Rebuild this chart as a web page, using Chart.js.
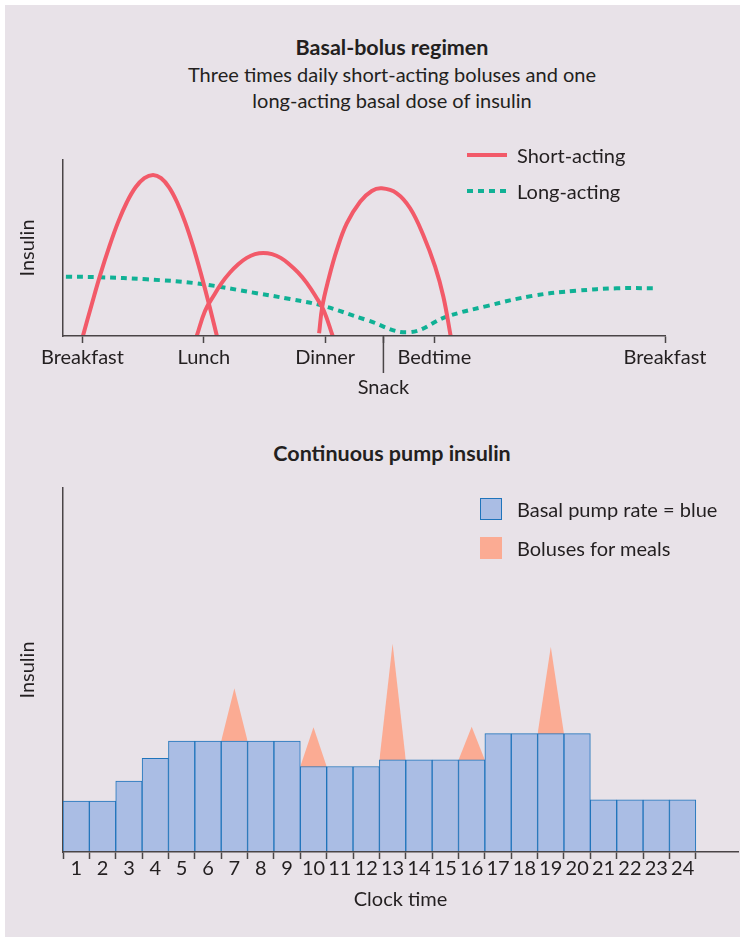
<!DOCTYPE html>
<html>
<head>
<meta charset="utf-8">
<script src="https://cdn.jsdelivr.net/npm/chart.js@4.4.1/dist/chart.umd.min.js"></script>
<style>
  html, body { margin: 0; padding: 0; width: 740px; height: 938px; overflow: hidden; background: #fff; font-family: Lato, sans-serif; color: #231f20; }
  #panel { position: absolute; left: 5px; top: 5px; width: 735px; height: 932px; background: #e8e2e8; }
  .txt { position: absolute; font-size: 20px; line-height: 26px; white-space: nowrap; }
  .center { left: 92px; width: 600px; text-align: center; }
  .bold { font-weight: 700; font-size: 21.5px; }
  canvas { position: absolute; left: 0; }
  #regimenChart { top: 140px; }
  #pumpChart { top: 470px; }
  .swatch { position: absolute; box-sizing: border-box; }
</style>
</head>
<body>
<div id="panel"></div>
<div class="txt center bold" style="top:34px">Basal-bolus regimen</div>
<div class="txt center" style="top:61px">Three times daily short-acting boluses and one<br>long-acting basal dose of insulin</div>
<div class="txt center bold" style="top:440px">Continuous pump insulin</div>
<canvas id="regimenChart" width="740" height="270"></canvas>
<canvas id="pumpChart" width="740" height="450"></canvas>
<div id="legends"></div>
<script>
// ---- top chart: meal times (hours of day, next breakfast = 31) ----
const timeLabels = ['Breakfast', 'Lunch', 'Dinner', 'Snack', 'Bedtime', 'Breakfast'];
const timeTicks = [7, 12, 17, 19.4, 21.5, 31];

// short-acting boluses (x = hour, y = relative insulin)
const breakfastBolusX = [7.02, 7.38, 7.74, 8.11, 8.47, 8.83, 9.19, 9.55, 9.91, 10.24, 10.57, 10.90, 11.23, 11.56, 11.89, 12.22, 12.54];
const breakfastBolusY = [0, 17.8, 35.0, 50.9, 64.7, 76.0, 84.5, 89.7, 91.5, 89.7, 84.5, 76.0, 64.7, 50.9, 35.0, 17.8, 0];
const lunchBolusX = [11.71, 12.05, 12.40, 12.74, 13.08, 13.42, 13.77, 14.11, 14.45, 14.81, 15.17, 15.52, 15.88, 16.24, 16.60, 16.95, 17.31];
const lunchBolusY = [0, 14.2, 22.7, 30.2, 36.1, 40.8, 44.4, 46.5, 47.2, 46.5, 44.4, 40.8, 36.1, 30.2, 22.7, 14.2, 0];
const dinnerBolusX = [16.75, 16.88, 17.13, 17.48, 17.89, 18.44, 18.92, 19.33, 19.95, 20.50, 21.04, 21.53, 21.87, 22.17];
const dinnerBolusY = [1.5, 16.6, 31.8, 48.9, 64.0, 76.3, 82.4, 83.9, 81.1, 72.6, 57.4, 39.4, 22.3, 0];

// long-acting basal dose
const basalDoseX = [6.32, 7.72, 9.65, 11.71, 14.18, 15.55, 16.90, 18.71, 20.43, 22.01, 23.65, 25.57, 27.36, 29.01, 30.59];
const basalDoseY = [33.7, 33.4, 32.2, 29.9, 24.3, 21.0, 17.2, 9.1, 2.1, 11.0, 17.0, 22.9, 25.7, 27.1, 27.1];

// ---- bottom chart: pump ----
const hourLabels = ['1','2','3','4','5','6','7','8','9','10','11','12','13','14','15','16','17','18','19','20','21','22','23','24'];
const basalRate = [14, 14, 19.5, 25.7, 30.5, 30.5, 30.5, 30.5, 30.5, 23.5, 23.5, 23.5, 25.3, 25.3, 25.3, 25.3, 32.5, 32.5, 32.5, 32.5, 14.3, 14.3, 14.3, 14.3];
const bolusHours = [7, 10, 13, 16, 19];
const bolusPeaks = [45, 34.3, 57.3, 34.4, 56.4];

const textColor = '#231f20';
const axisColor = '#4a4547';
const shortColor = '#f25a69';
const longColor = '#10b195';
const barFill = '#aabde4';
const barEdge = '#1f74bb';
const bolusFill = '#fbab93';

Chart.defaults.font.family = 'Lato, sans-serif';
Chart.defaults.font.size = 20;
Chart.defaults.color = textColor;

const pts = (xs, ys) => xs.map((x, i) => ({ x, y: ys[i] }));

const shortArch = (xs, ys) => ({
  label: 'Short-acting', data: pts(xs, ys),
  borderColor: shortColor, borderWidth: 4, legendStyle: 'line',
});

// long tick under "Snack"
const snackTick = {
  id: 'snackTick',
  afterDraw(chart) {
    const x = chart.scales.x;
    const px = x.getPixelForValue(timeTicks[timeLabels.indexOf('Snack')]);
    const ctx = chart.ctx;
    ctx.save();
    ctx.strokeStyle = axisColor;
    ctx.lineWidth = 1.5;
    ctx.beginPath();
    ctx.moveTo(px, chart.chartArea.bottom);
    ctx.lineTo(px, chart.chartArea.bottom + 37);
    ctx.stroke();
    ctx.restore();
  },
};

const regimen = new Chart(document.getElementById('regimenChart'), {
  type: 'line',
  data: {
    datasets: [
      shortArch(breakfastBolusX, breakfastBolusY),
      shortArch(lunchBolusX, lunchBolusY),
      shortArch(dinnerBolusX, dinnerBolusY),
      { label: 'Long-acting', data: pts(basalDoseX, basalDoseY), borderColor: longColor, borderWidth: 4, borderDash: [6, 5], legendStyle: 'line' },
    ],
  },
  options: {
    responsive: false, animation: false, devicePixelRatio: 1,
    layout: { padding: { top: 20, right: 75, left: 0, bottom: 0 } },
    plugins: { legend: { display: false }, tooltip: { enabled: false } },
    elements: { point: { radius: 0 }, line: { tension: 0.4, borderCapStyle: 'butt' } },
    scales: {
      x: {
        type: 'linear', min: 6.2, max: 31,
        afterBuildTicks: s => { s.ticks = timeTicks.map(v => ({ value: v })); },
        afterFit: s => { s.height = 74; },
        grid: { drawOnChartArea: false, tickLength: 7, tickColor: axisColor, tickWidth: 1.5 },
        border: { color: axisColor, width: 1.5, z: 1 },
        ticks: {
          autoSkip: false, maxRotation: 0, padding: 0, color: textColor,
          font: { size: 20, lineHeight: 1.5 },
          callback: (v, i) => timeLabels[i] === 'Snack' ? ['', 'Snack'] : timeLabels[i],
        },
      },
      y: {
        min: 0, max: 100,
        afterFit: s => { s.width = 63; },
        grid: { display: false },
        ticks: { display: false },
        border: { color: axisColor, width: 1.5 },
        title: { display: true, text: 'Insulin', color: textColor, font: { size: 20 }, padding: { top: 16, bottom: 0 } },
      },
    },
  },
  plugins: [snackTick],
});

// bolus triangles sit on top of the basal bar of their hour
const bolusPoints = [];
bolusHours.forEach((h, k) => {
  const base = basalRate[h - 1];
  bolusPoints.push({ x: h - 1, y: base }, { x: h - 0.5, y: bolusPeaks[k] }, { x: h, y: base }, { x: h, y: null });
});

const pump = new Chart(document.getElementById('pumpChart'), {
  type: 'bar',
  data: {
    datasets: [
      {
        type: 'bar', label: 'Basal pump rate = blue', data: basalRate.map((v, i) => ({ x: i + 0.5, y: v })),
        backgroundColor: barFill, borderColor: barEdge, borderWidth: 1,
        barPercentage: 1, categoryPercentage: 1, order: 1, legendStyle: 'box',
      },
      {
        type: 'line', label: 'Boluses for meals', data: bolusPoints,
        fill: 'origin', backgroundColor: bolusFill, borderWidth: 0, pointRadius: 0,
        tension: 0, spanGaps: false, order: 2, legendStyle: 'fill',
      },
    ],
  },
  options: {
    responsive: false, animation: false, devicePixelRatio: 1,
    layout: { padding: { top: 18, right: 2, left: 0, bottom: 0 } },
    plugins: { legend: { display: false }, tooltip: { enabled: false } },
    scales: {
      x: {
        type: 'linear', min: 0, max: 25.6, offset: false,
        afterBuildTicks: s => { s.ticks = hourLabels.concat(['']).map((l, i) => ({ value: i })); },
        afterFit: s => { s.height = 68; },
        grid: { drawOnChartArea: false, offset: false, tickLength: 7, tickColor: axisColor, tickWidth: 1.5 },
        border: { color: axisColor, width: 1.5, z: 1 },
        ticks: {
          autoSkip: false, maxRotation: 0, padding: 0, labelOffset: 13.2, color: textColor,
          font: { size: 20, lineHeight: 1 },
          callback: (v, i) => hourLabels[i] || '',
        },
        title: { display: true, text: 'Clock time', color: textColor, font: { size: 20 }, padding: { top: 4, bottom: 8 } },
      },
      y: {
        min: 0, max: 100,
        afterFit: s => { s.width = 63; },
        grid: { display: false },
        ticks: { display: false },
        border: { color: axisColor, width: 1.5 },
        title: { display: true, text: 'Insulin', color: textColor, font: { size: 20 }, padding: { top: 16, bottom: 0 } },
      },
    },
  },
});

// html legends built from the datasets
function legend(chart, left, tops) {
  const holder = document.getElementById('legends');
  const seen = [];
  chart.data.datasets.forEach(ds => {
    if (seen.includes(ds.label)) return;
    const top = tops[seen.length];
    seen.push(ds.label);
    const sw = document.createElement('div');
    sw.className = 'swatch';
    if (ds.legendStyle === 'line') {
      Object.assign(sw.style, { left: left + 'px', top: (top - 2) + 'px', width: '40px', height: '4px',
        background: ds.borderDash ? `repeating-linear-gradient(90deg, ${ds.borderColor} 0 6px, transparent 6px 11px)` : ds.borderColor });
    } else {
      Object.assign(sw.style, { left: (left + 13) + 'px', top: (top - 11) + 'px', width: '22px', height: '22px',
        background: ds.backgroundColor, border: ds.legendStyle === 'box' ? `1px solid ${ds.borderColor}` : 'none' });
    }
    holder.appendChild(sw);
    const t = document.createElement('div');
    t.className = 'txt';
    t.textContent = ds.label;
    Object.assign(t.style, { left: '517px', top: (top - 13) + 'px' });
    holder.appendChild(t);
  });
}
legend(regimen, 467, [155, 191]);
legend(pump, 467, [509, 548]);
</script>
</body>
</html>
